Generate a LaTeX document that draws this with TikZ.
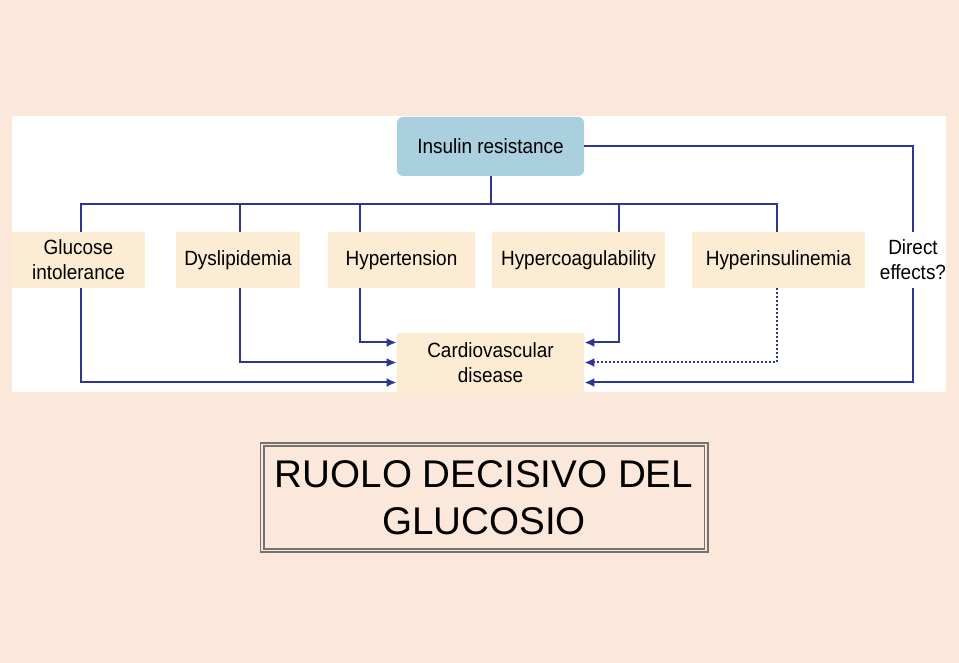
\documentclass[tikz,border=0pt]{standalone}
\usepackage{fontspec}
\usetikzlibrary{arrows.meta,positioning}
\setmainfont{Liberation Sans}
\newfontfamily\diagfont[FakeStretch=0.92]{Liberation Sans}
\definecolor{peach1}{RGB}{252,232,218}
\definecolor{cream1}{RGB}{251,236,211}
\definecolor{blue1}{RGB}{170,207,222}
\definecolor{navy1}{RGB}{45,55,145}

\tikzset{
  riskbox/.style={fill=cream1, inner sep=0pt, minimum height=28pt, align=center,
    font=\diagfont\fontsize{10.3}{12.5}\selectfont},
  topbox/.style={riskbox, fill=blue1, rounded corners=3pt},
  link/.style={draw=navy1, line width=1pt},
  tolink/.style={link, -{Latex[length=5pt,width=4.5pt]}},
  titlebox/.style={draw=black!55, double=peach1, double distance=0.9pt, line width=0.8pt,
    minimum width=222pt, minimum height=53pt, align=center,
    font=\fontsize{19.3}{23.5}\selectfont}
}

\begin{document}
\begin{tikzpicture}[x=0.5pt,y=-0.5pt]
\fill[peach1] (0,0) rectangle (959,663);
\useasboundingbox (0,0) rectangle (959,663);
\fill[white] (12,116) rectangle (946,392);

% top and bottom of the scheme
\node[topbox, minimum width=93.5pt, minimum height=29.5pt] (ins) at (490.5,146.5) {Insulin resistance};
\node[riskbox, minimum width=93.5pt, minimum height=29.5pt] (cvd) at (490.5,362.5) {Cardiovascular\\disease};

% the factors
\node[riskbox, minimum width=66.5pt] (glu) at (78.5,260) {Glucose\\intolerance};
\node[riskbox, minimum width=62pt] (dys) at (238,260) {Dyslipidemia};
\node[riskbox, minimum width=73.5pt] (hyt) at (401.5,260) {Hypertension};
\node[riskbox, minimum width=86.5pt] (hcg) at (578.5,260) {Hypercoagulability};
\node[riskbox, minimum width=86.5pt] (hin) at (778.5,260) {Hyperinsulinemia};
\node[riskbox, fill=none] (dir) at (913,260) {Direct\\effects?};

% from insulin resistance down to the factors
\coordinate (bus) at (490.5,204);
\draw[link] (ins.south) -- (bus);
\foreach \n/\dx in {glu/1.25, dys/1, hyt/-20.75, hcg/20.25, hin/-0.75}
  \draw[link] ([xshift=\dx pt]\n.north) |- (bus);
\draw[link] (ins.east) -| (dir.north);

% from the factors into cardiovascular disease
\draw[tolink] ([xshift=-20.75pt]hyt.south) |- ([yshift=10pt]cvd.west);
\draw[tolink] ([xshift=1pt]dys.south) |- (cvd.west);
\draw[tolink] ([xshift=1.25pt]glu.south) |- ([yshift=-10pt]cvd.west);
\draw[tolink] ([xshift=20.25pt]hcg.south) |- ([yshift=10pt]cvd.east);
\draw[tolink, densely dotted] ([xshift=-0.75pt]hin.south) |- (cvd.east);
\draw[tolink] (dir.south) |- ([yshift=-10pt]cvd.east);

\node[titlebox] (title) at (484,497.5) {RUOLO DECISIVO DEL\\GLUCOSIO};
\end{tikzpicture}
\end{document}
